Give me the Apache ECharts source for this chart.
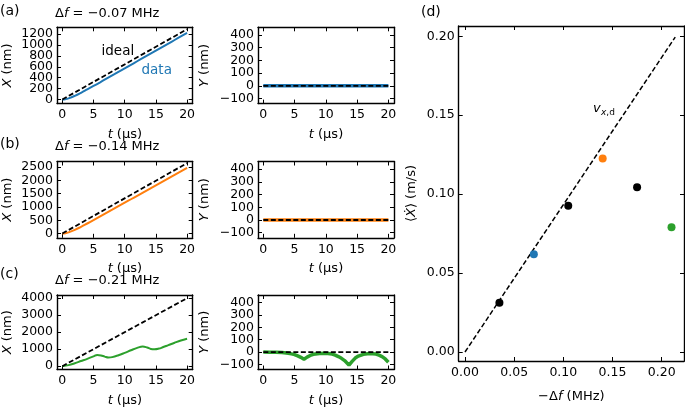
<!DOCTYPE html>
<html><head><meta charset="utf-8">
<script src="https://cdn.jsdelivr.net/npm/echarts@6/dist/echarts.min.js"></script>
<style>html,body{margin:0;padding:0;background:#fff}#c{width:685px;height:408px}</style>
</head><body><div id="c"></div><script>
// ---------------- data ----------------
const tTicks = [0, 5, 10, 15, 20];
const xTicksA = [0, 200, 400, 600, 800, 1000, 1200];
const xTicksB = [0, 500, 1000, 1500, 2000, 2500];
const xTicksC = [0, 1000, 2000, 3000, 4000];
const yTicks = [-100, 0, 100, 200, 300, 400];
const dTicks = [0, 0.05, 0.10, 0.15, 0.20];

const timesAB = [0,0.5,1,2,3,4,5,6,7,8,9,10,11,12,13,14,15,16,17,18,19,20];
const xDataA = [0,6,21,67,123,185,248,312,377,442,507,572,637,702,767,832,897,962,1027,1092,1157,1222];
const xDataB = [0,12,44,138,253,378,506,636,767,897,1028,1159,1290,1421,1552,1683,1814,1945,2076,2207,2338,2472];

const timesFlat = [0, 20];
const yDataA = [0, 0];
const yDataB = [0, 0];

const timesCX = [0,1,2,3,4,5,5.6,6.2,6.8,7.4,8,9,10,11,12,12.9,13.6,14.2,14.8,15.5,16,17,18,19,20];
const xDataC = [0,60,170,300,430,570,660,630,560,510,530,640,780,930,1070,1150,1090,1010,990,1030,1090,1230,1370,1500,1600];

const timesCY = [0,1,2,3,4,4.5,5,5.5,6,6.5,7,7.5,8,9,10,11,11.5,12,12.5,13,13.7,14.2,14.7,15.2,16,17,18,18.5,19,19.5,20];
const yDataC = [0,-1,-2,-4,-9,-14,-20,-30,-42,-57,-40,-27,-18,-11,-10,-16,-24,-36,-50,-68,-105,-75,-48,-32,-18,-12,-16,-24,-36,-55,-82];

const idealT = [0, 20];
const idealXA = [0, 1290];
const idealXB = [0, 2650];
const idealXC = [0, 3980];
const idealY = [0, 0];

const detuning = [0.035, 0.07, 0.105, 0.14, 0.175, 0.21];
const velocity = [0.0312, 0.0619, 0.0927, 0.1226, 0.1044, 0.079];
const idealDetuning = [0, 0.2138];
const idealVelocity = [0, 0.1995];

// ---------------- styles ----------------
const FONT = 'DejaVu Sans';
const BLUE = '#1f77b4', ORANGE = '#ff7f0e', GREEN = '#2ca02c';
const pointColors = ['#000', BLUE, '#000', ORANGE, '#000', GREEN];
const minus = v => (v < 0 ? '\u2212' + (-v) : String(v));
const fix2 = v => v.toFixed(2);
const TICK_FS = 12.5;
const NAME_FS = 13;
const richI = { i: { fontStyle: 'italic', fontFamily: FONT, fontSize: NAME_FS, color: '#000' } };

const tName = '{i|t} (\u03bcs)';
const panels = [
  { left: 56.7, top: 27.3, w: 136, h: 76.3, x: [-0.85, 20.9], y: [-75, 1325], xt: tTicks, yt: xTicksA, xf: minus, yf: minus, xName: tName, xGap: 24.5, yName: '{i|X} (nm)', yGap: 43 },
  { left: 258, top: 27.3, w: 136, h: 76.3, x: [-0.85, 20.9], y: [-140, 460], xt: tTicks, yt: yTicks, xf: minus, yf: minus, xName: tName, xGap: 24.5, yName: '{i|Y} (nm)', yGap: 47 },
  { left: 56.7, top: 161.5, w: 136, h: 76.3, x: [-0.85, 20.9], y: [-160, 2710], xt: tTicks, yt: xTicksB, xf: minus, yf: minus, xName: tName, xGap: 24, yName: '{i|X} (nm)', yGap: 43 },
  { left: 258, top: 161.5, w: 136, h: 76.3, x: [-0.85, 20.9], y: [-140, 460], xt: tTicks, yt: yTicks, xf: minus, yf: minus, xName: tName, xGap: 24, yName: '{i|Y} (nm)', yGap: 47 },
  { left: 56.7, top: 295, w: 136, h: 76.3, x: [-0.85, 20.9], y: [-195, 4165], xt: tTicks, yt: xTicksC, xf: minus, yf: minus, xName: tName, xGap: 24.5, yName: '{i|X} (nm)', yGap: 43 },
  { left: 258, top: 295, w: 136, h: 76.3, x: [-0.85, 20.9], y: [-140, 460], xt: tTicks, yt: yTicks, xf: minus, yf: minus, xName: tName, xGap: 24.5, yName: '{i|Y} (nm)', yGap: 47 },
  { left: 458.7, top: 26, w: 225.3, h: 345, x: [-0.0064, 0.2227], y: [-0.0057, 0.2065], xt: dTicks, yt: dTicks, xf: fix2, yf: fix2, xName: '\u2212\u0394{i|f} (MHz)', xGap: 29, yName: '\u27e8{i|\u1e8a}\u27e9 (m/s)', yGap: 41 }
];

const option = { animation: false, backgroundColor: '#fff', grid: [], xAxis: [], yAxis: [], series: [], graphic: [] };
const extraY = [];

panels.forEach((p, gi) => {
  option.grid.push({ left: p.left, top: p.top, width: p.w, height: p.h });
  const common = (range, ticks) => ({
    gridIndex: gi, type: 'value', min: range[0], max: range[1],
    splitLine: { show: false },
    axisLine: { show: true, onZero: false, lineStyle: { color: '#000', width: 1.4 } },
    axisTick: { show: true, inside: true, length: 4, customValues: ticks, lineStyle: { color: '#000', width: 1 } }
  });
  const lbl = (ticks, fmt, margin) => ({ show: true, customValues: ticks, formatter: fmt, margin: margin,
    showMinLabel: true, showMaxLabel: true,
    color: '#000', fontFamily: FONT, fontSize: TICK_FS });
  option.xAxis.push(Object.assign(common(p.x, p.xt), {
    position: 'bottom',
    axisLabel: lbl(p.xt, p.xf, 5),
    name: p.xName, nameLocation: 'middle', nameGap: p.xGap,
    nameTextStyle: { color: '#000', fontFamily: FONT, fontSize: NAME_FS, rich: richI }
  }));
  option.xAxis.push(Object.assign(common(p.x, p.xt), { position: 'top', axisLabel: { show: false } }));
  // left labels split over two coincident axes so dense labels are never auto-hidden
  const evenT = p.yt.filter((v, i) => i % 2 === 0);
  const oddT = p.yt.filter((v, i) => i % 2 === 1);
  option.yAxis.push(Object.assign(common(p.y, p.yt), {
    position: 'left',
    axisLabel: lbl(evenT, p.yf, 4),
    name: p.yName, nameLocation: 'middle', nameGap: p.yGap, nameRotate: 90,
    nameTextStyle: { color: '#000', fontFamily: FONT, fontSize: NAME_FS, rich: richI }
  }));
  option.yAxis.push(Object.assign(common(p.y, p.yt), { position: 'right', axisLabel: { show: false } }));
  extraY.push({
    gridIndex: gi, type: 'value', min: p.y[0], max: p.y[1], position: 'left', offset: 0,
    splitLine: { show: false }, axisLine: { show: false, onZero: false }, axisTick: { show: false },
    axisLabel: lbl(oddT, p.yf, 4)
  });
});
option.yAxis = option.yAxis.concat(extraY);

const zip = (a, b) => a.map((v, i) => [v, b[i]]);
function line(gi, xs, ys, color, width, dashed, smooth) {
  option.series.push({
    type: 'line', xAxisIndex: 2 * gi, yAxisIndex: 2 * gi, data: zip(xs, ys),
    showSymbol: false, symbol: 'none', smooth: smooth || false,
    lineStyle: { color: color, width: width, type: dashed ? [5, 2.5] : 'solid' },
    z: dashed ? 5 : 3, silent: true
  });
}
line(0, timesAB, xDataA, BLUE, 2, false, true);
line(0, idealT, idealXA, '#000', 1.8, true);
line(1, timesFlat, yDataA, BLUE, 3.5, false);
line(1, idealT, idealY, '#000', 1.8, true);
line(2, timesAB, xDataB, ORANGE, 2, false, true);
line(2, idealT, idealXB, '#000', 1.8, true);
line(3, timesFlat, yDataB, ORANGE, 3.5, false);
line(3, idealT, idealY, '#000', 1.8, true);
line(4, timesCX, xDataC, GREEN, 2, false, 0.4);
line(4, idealT, idealXC, '#000', 1.8, true);
line(5, timesCY, yDataC, GREEN, 3.5, false);
line(5, idealT, idealY, '#000', 1.8, true);
line(6, idealDetuning, idealVelocity, '#000', 1.5, true);
option.series.push({
  type: 'scatter', xAxisIndex: 12, yAxisIndex: 12, symbolSize: 8, z: 6,
  data: detuning.map((d, i) => ({ value: [d, velocity[i]], itemStyle: { color: pointColors[i], opacity: 1 } }))
});

// ---------------- texts ----------------
function txt(x, y, text, opts) {
  const fs = (opts && opts.fontSize) || 13;
  option.graphic.push({ type: 'text', x: x, y: y, silent: true,
    style: Object.assign({ text: text, fill: '#000', fontFamily: FONT, fontSize: fs, align: 'left', verticalAlign: 'middle',
      rich: { i: { fontStyle: 'italic', fontFamily: FONT, fontSize: fs, fill: '#000' } } }, opts || {}) });
}
txt(0, 11, '(a)', { fontSize: 14 });
txt(0, 144.5, '(b)', { fontSize: 14 });
txt(0, 274.5, '(c)', { fontSize: 14 });
txt(421, 12, '(d)', { fontSize: 14 });
txt(55, 13.5, '\u0394{i|f} = \u22120.07 MHz');
txt(55, 146.7, '\u0394{i|f} = \u22120.14 MHz');
txt(55, 280.7, '\u0394{i|f} = \u22120.21 MHz');
txt(101.5, 51.7, 'ideal', { fontSize: 13.5 });
txt(141.5, 70.7, 'data', { fontSize: 13.5, fill: BLUE });
txt(593, 108.5, 'v', { fontSize: 13, fontStyle: 'italic' });
txt(601, 112.5, '{i|x},d', { fontSize: 9, rich: { i: { fontStyle: 'italic', fontFamily: FONT, fontSize: 9, fill: '#000' } } });

const chart = echarts.init(document.getElementById('c'), null, { renderer: 'canvas' });
chart.setOption(option);
</script></body></html>
